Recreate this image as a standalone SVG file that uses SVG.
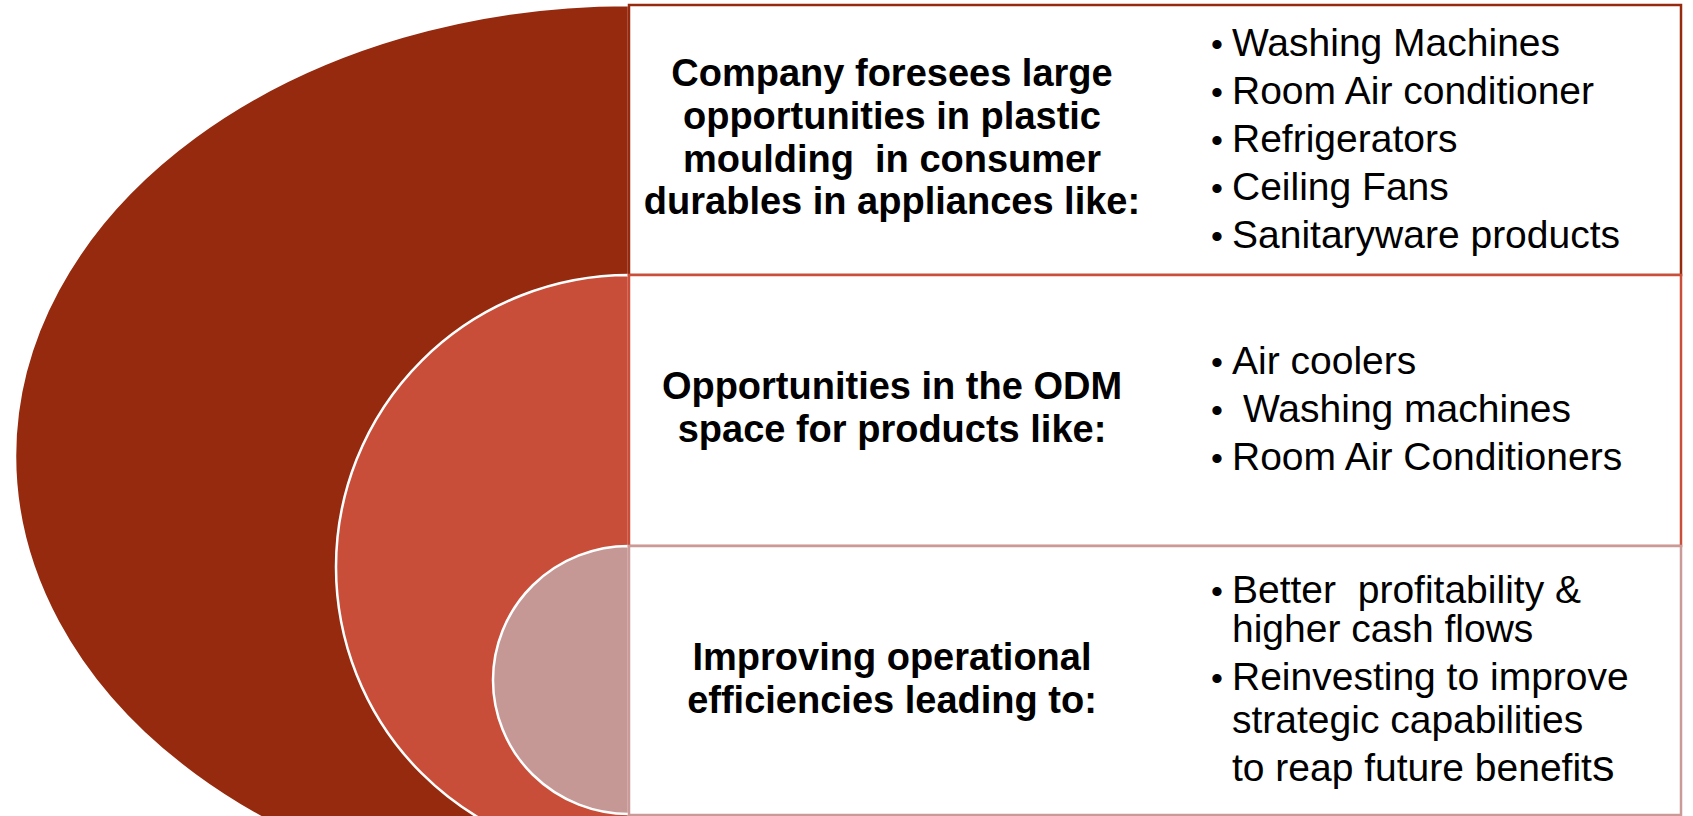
<svg xmlns="http://www.w3.org/2000/svg" width="1693" height="816" viewBox="0 0 1693 816">
<style>
.arc{stroke:#ffffff;stroke-width:2.5}
.box{fill:#ffffff;stroke-width:2.5}
.hd{font-family:"Liberation Sans",Arial,sans-serif;font-weight:bold;font-size:38px;fill:#000;text-anchor:middle}
.bl{font-family:"Liberation Sans",Arial,sans-serif;font-size:39px;fill:#000}
.bu{font-family:"Liberation Sans",Arial,sans-serif;font-size:34px;fill:#000}
</style>
<rect width="1693" height="816" fill="#ffffff"/>
<g id="rings">
<path id="ring-outer" class="arc" fill="#952A0E" d="M629,5 A614,451 0 0 0 629,907 Z"/>
<path id="ring-middle" class="arc" fill="#C84E3A" d="M629,275 A293,292 0 0 0 629,859 Z"/>
<path id="ring-inner" class="arc" fill="#C59896" d="M629,546 A136,134 0 0 0 629,814 Z"/>
</g>
<g id="box1">
<rect class="box" stroke="#962A0E" x="629" y="5" width="1052" height="270"/>
<text class="hd" xml:space="preserve"><tspan x="892" y="86">Company foresees large</tspan><tspan x="892" y="129">opportunities in plastic</tspan><tspan x="892" y="172">moulding  in consumer</tspan><tspan x="892" y="214">durables in appliances like:</tspan></text>
<text class="bu"><tspan x="1211" y="56">•</tspan><tspan x="1211" y="104">•</tspan><tspan x="1211" y="152">•</tspan><tspan x="1211" y="200">•</tspan><tspan x="1211" y="248">•</tspan></text>
<text class="bl"><tspan x="1232" y="56">Washing Machines</tspan><tspan x="1232" y="104">Room Air conditioner</tspan><tspan x="1232" y="152">Refrigerators</tspan><tspan x="1232" y="200">Ceiling Fans</tspan><tspan x="1232" y="248">Sanitaryware products</tspan></text>
</g>
<g id="box2">
<rect class="box" stroke="#C94F3B" x="629" y="275" width="1052" height="271"/>
<text class="hd"><tspan x="892" y="399">Opportunities in the ODM</tspan><tspan x="892" y="442">space for products like:</tspan></text>
<text class="bu"><tspan x="1211" y="374">•</tspan><tspan x="1211" y="422">•</tspan><tspan x="1211" y="470">•</tspan></text>
<text class="bl"><tspan x="1232" y="374">Air coolers</tspan><tspan x="1243" y="422">Washing machines</tspan><tspan x="1232" y="470">Room Air Conditioners</tspan></text>
</g>
<g id="box3">
<rect class="box" stroke="#C99A98" x="629" y="546" width="1052" height="269"/>
<text class="hd"><tspan x="892" y="670">Improving operational</tspan><tspan x="892" y="713">efficiencies leading to:</tspan></text>
<text class="bu"><tspan x="1211" y="603">•</tspan><tspan x="1211" y="690">•</tspan></text>
<text class="bl" xml:space="preserve"><tspan x="1232" y="603">Better  profitability &amp;</tspan><tspan x="1232" y="642">higher cash flows</tspan><tspan x="1232" y="690">Reinvesting to improve</tspan><tspan x="1232" y="733">strategic capabilities</tspan><tspan x="1232" y="781">to reap future benefit<tspan font-size="45">s</tspan></tspan></text>
</g>
<g id="connectors"/>
</svg>
